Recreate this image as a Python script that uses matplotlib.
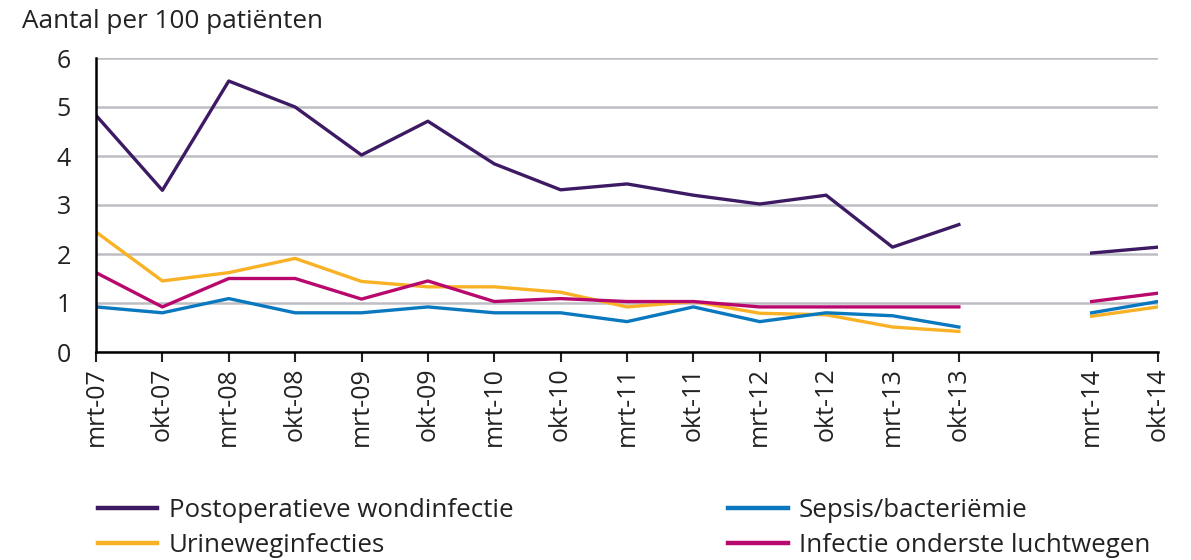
import matplotlib.pyplot as plt
import numpy as np

plt.rcParams['font.family'] = ['Open Sans', 'DejaVu Sans']

# labels; one empty slot between okt-13 and mrt-14
labels = ['mrt-07', 'okt-07', 'mrt-08', 'okt-08', 'mrt-09', 'okt-09', 'mrt-10',
          'okt-10', 'mrt-11', 'okt-11', 'mrt-12', 'okt-12', 'mrt-13', 'okt-13',
          '', 'mrt-14', 'okt-14']
nan = np.nan
postop = [4.83, 3.3, 5.53, 5.0, 4.02, 4.71, 3.84, 3.31, 3.43, 3.2, 3.02, 3.2, 2.14, 2.6,
          nan, 2.02, 2.14]
sepsis = [0.92, 0.8, 1.09, 0.8, 0.8, 0.92, 0.8, 0.8, 0.62, 0.92, 0.62, 0.8, 0.74, 0.51,
          nan, 0.8, 1.03]
urine = [2.45, 1.45, 1.62, 1.91, 1.44, 1.33, 1.33, 1.22, 0.92, 1.03, 0.79, 0.76, 0.51, 0.42,
         nan, 0.73, 0.92]
luchtweg = [1.62, 0.92, 1.5, 1.5, 1.08, 1.45, 1.03, 1.09, 1.03, 1.03, 0.92, 0.92, 0.92, 0.92,
            nan, 1.03, 1.2]

x = np.arange(len(labels))
tick_pos = [i for i, l in enumerate(labels) if l]

fig = plt.figure(figsize=(11.91, 5.6), dpi=100)
ax = fig.add_axes([96/1191, 1-352/560, (1158-96)/1191, (352-58)/560])

lw = 2.4
l1, = ax.plot(x, postop, color='#3d1a63', lw=lw, label='Postoperatieve wondinfectie')
l3, = ax.plot(x, urine, color='#f9b125', lw=lw, label='Urineweginfecties')
l2, = ax.plot(x, sepsis, color='#0a78bf', lw=lw, label='Sepsis/bacteriëmie')
l4, = ax.plot(x, luchtweg, color='#b8086d', lw=lw, label='Infectie onderste luchtwegen')

ax.set_xlim(0, 16)
ax.set_ylim(0, 6)
ax.set_yticks(range(7))
ax.set_xticks(tick_pos)
ax.set_xticklabels([labels[i] for i in tick_pos], rotation=90)
ax.grid(axis='y', color='#bdbdc4', lw=1.8)
ax.set_axisbelow(True)
for s in ['top', 'right']:
    ax.spines[s].set_visible(False)
ax.spines['left'].set_linewidth(1.8)
ax.spines['bottom'].set_linewidth(1.8)
ax.tick_params(axis='y', length=0, labelsize=18, pad=18, colors='#222222')
ax.tick_params(axis='x', length=7, width=1.5, labelsize=18, pad=4, colors='#222222')
ax.tick_params(axis='both', labelcolor='#222222')

fig.text(22/1191, 1-22/560, 'Aantal per 100 patiënten', fontsize=18.8, color='#222222',
         va='center', ha='left')

leg = fig.legend(handles=[l1, l3, l2, l4], ncol=2, loc='upper left',
                 bbox_to_anchor=(98/1191, 1-498/560), frameon=False, fontsize=18.6,
                 handlelength=2.3, handletextpad=0.45, columnspacing=8.3,
                 labelspacing=0.38, borderaxespad=0, borderpad=0)
for h in leg.legend_handles:
    h.set_linewidth(3.2)
for t in leg.get_texts():
    t.set_color('#222222')

fig.savefig('out.png', dpi=100)
